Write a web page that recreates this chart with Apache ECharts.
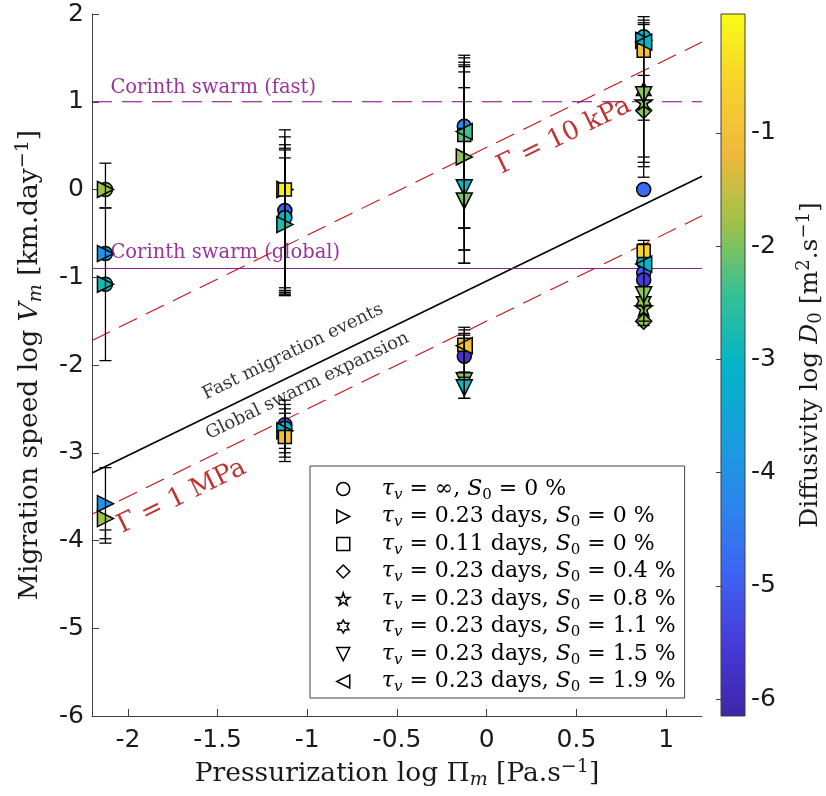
<!DOCTYPE html>
<html>
<head>
<meta charset="utf-8">
<script src="https://cdn.jsdelivr.net/npm/echarts@6/dist/echarts.min.js"></script>
<style>
  html, body { margin: 0; padding: 0; background: #fff; }
  #chart { width: 826px; height: 796px; }
</style>
</head>
<body>
<div id="chart"></div>
<script>
// ---- data: each point is [log Pi_m, log V_m, log D0] ----
const ptsCircle   = [[-2.125, 0.0, -1.8], [-2.125, -0.73, -3.6], [-2.125, -1.08, -2.9],
                     [-1.125, -0.24, -5.0], [-1.125, -0.32, -3.0], [-1.125, -2.68, -5.2], [-1.125, -2.72, -3.0],
                     [-0.125, 0.72, -4.2], [-0.125, -1.9, -5.7],
                     [0.875, 1.74, -3.0], [0.875, 0.0, -4.8], [0.875, -0.83, -3.0], [0.875, -0.95, -5.0], [0.875, -1.03, -5.5]];
const ptsRight    = [[-2.125, 0.0, -1.8], [-2.125, -0.73, -4.0], [-2.125, -1.08, -2.8], [-2.125, -3.58, -4.0], [-2.125, -3.75, -1.8],
                     [-1.125, 0.0, -0.2], [-1.125, -0.40, -2.7], [-1.125, -2.75, -3.0],
                     [-0.125, 0.37, -1.9],
                     [0.875, 1.70, -3.2]];
const ptsSquare   = [[-1.125, 0.0, -0.15], [-1.125, -2.82, -1.0],
                     [-0.125, 0.62, -2.2], [-0.125, -1.77, -1.0],
                     [0.875, 1.58, -1.0], [0.875, -0.70, -0.5]];
const ptsDiamond  = [[0.875, 0.90, -1.9], [0.875, -1.50, -1.9]];
const ptsStar     = [[0.875, 1.00, -1.9], [0.875, -1.35, -1.9]];
const ptsHexagram = [[0.875, 1.12, -1.9], [0.875, -1.27, -1.9]];
const ptsDown     = [[-0.125, 0.02, -3.0], [-0.125, -0.13, -2.0], [-0.125, -2.18, -1.9], [-0.125, -2.26, -2.9],
                     [0.875, 1.08, -1.9], [0.875, -1.20, -1.9]];
const ptsLeft     = [[-0.125, 0.66, -2.4], [-0.125, -1.78, -1.0],
                     [0.875, 1.68, -3.0], [0.875, -0.85, -3.0]];

// error bars: [log Pi_m, low, high]
const errBars = [
  [-2.125, -0.21, 0.30], [-2.125, -1.95, -0.21], [-2.125, -3.98, -3.17], [-2.125, -4.03, -3.88],
  [-1.125, -1.21, 0.68], [-1.125, -1.18, 0.60], [-1.125, -1.17, 0.51], [-1.125, -1.12, 0.47], [-1.125, -1.15, 0.45], [-1.125, -1.20, 0.36],
  [-1.125, -3.10, -2.40], [-1.125, -3.05, -2.45], [-1.125, -3.00, -2.50], [-1.125, -2.95, -2.55],
  [-0.125, -0.84, 1.53], [-0.125, -0.69, 1.50], [-0.125, -0.44, 1.45], [-0.125, -0.44, 1.42], [-0.125, -0.69, 1.40], [-0.125, -0.84, 1.34], [-0.125, -0.44, 1.16],
  [-0.125, -2.38, -1.57], [-0.125, -2.14, -1.60], [-0.125, -2.08, -1.64], [-0.125, -2.38, -1.66],
  [0.875, 0.14, 1.97], [0.875, 0.26, 1.93], [0.875, 0.31, 1.90], [0.875, 0.37, 1.88], [0.875, 0.79, 1.30],
  [0.875, -1.55, -0.58], [0.875, -1.50, -0.62]
];

// reference lines (end points in log Pi_m, log V_m)
const trendLine   = [[-2.2, -3.23], [1.2, 0.15]];
const gamma10kPa  = [[-2.2, -1.72], [1.2, 1.68]];
const gamma1MPa   = [[-2.2, -3.70], [1.2, -0.30]];
const corinthFast   = [[-2.2, 1.0], [1.2, 1.0]];
const corinthGlobal = [[-2.2, -0.9], [1.2, -0.9]];

// axes
const xRange  = [-2.2, 1.2];
const yRange  = [-6, 2];
const xTicks  = [-2, -1.5, -1, -0.5, 0, 0.5, 1];
const cbRange = [-6.15, 0.05];
const cbTicks = [-6, -5, -4, -3, -2, -1];

// parula-like colour ramp for log D0
const parula = ['#3e26a8', '#4639d8', '#3e63f2', '#2b86ec', '#16a0dc', '#03b4c8',
                '#35c096', '#9cc24a', '#f0b83c', '#f8d12c', '#f9fb15'];

const SERIF = '"DejaVu Serif", "Liberation Serif", serif';
const SANS = '"DejaVu Sans", "Liberation Sans", sans-serif';
const AXIS = '#404040';

// rich text styles that imitate math sub/superscripts
function mathRich(size, lh, color) {
  const s2 = Math.round(size * 0.7);
  const subLh = Math.max(4, lh - 0.6 * size);
  const supLh = Math.max(4, lh - 0.56 * size);
  return {
    t:    { fontFamily: SERIF, fontSize: size, lineHeight: lh, color: color },
    i:    { fontFamily: SERIF, fontSize: size, lineHeight: lh, color: color, fontStyle: 'italic' },
    sub:  { fontFamily: SERIF, fontSize: s2, lineHeight: subLh, verticalAlign: 'bottom', color: color },
    isub: { fontFamily: SERIF, fontSize: s2, lineHeight: subLh, verticalAlign: 'bottom', color: color, fontStyle: 'italic' },
    sup:  { fontFamily: SERIF, fontSize: s2, lineHeight: supLh, verticalAlign: 'top', color: color }
  };
}

const legendNames = [
  'tau_inf_S0_0', 'tau_023_S0_0', 'tau_011_S0_0', 'tau_023_S0_04',
  'tau_023_S0_08', 'tau_023_S0_11', 'tau_023_S0_15', 'tau_023_S0_19'
];
const legendText = {
  tau_inf_S0_0:  '{i|τ}{isub|v}{t| = ∞, }{i|S}{sub|0}{t| = 0 %}',
  tau_023_S0_0:  '{i|τ}{isub|v}{t| = 0.23 days, }{i|S}{sub|0}{t| = 0 %}',
  tau_011_S0_0:  '{i|τ}{isub|v}{t| = 0.11 days, }{i|S}{sub|0}{t| = 0 %}',
  tau_023_S0_04: '{i|τ}{isub|v}{t| = 0.23 days, }{i|S}{sub|0}{t| = 0.4 %}',
  tau_023_S0_08: '{i|τ}{isub|v}{t| = 0.23 days, }{i|S}{sub|0}{t| = 0.8 %}',
  tau_023_S0_11: '{i|τ}{isub|v}{t| = 0.23 days, }{i|S}{sub|0}{t| = 1.1 %}',
  tau_023_S0_15: '{i|τ}{isub|v}{t| = 0.23 days, }{i|S}{sub|0}{t| = 1.5 %}',
  tau_023_S0_19: '{i|τ}{isub|v}{t| = 0.23 days, }{i|S}{sub|0}{t| = 1.9 %}'
};

// marker outlines
const TRI_RIGHT = 'path://M0,0 L100,50 L0,100 Z';
const TRI_LEFT  = 'path://M100,0 L0,50 L100,100 Z';
const TRI_DOWN  = 'path://M0,0 L100,0 L50,100 Z';
const STAR      = 'path://M50,0 L61,35 L98,35 L68,57 L79,91 L50,70 L21,91 L32,57 L2,35 L39,35 Z';
const HEXAGRAM  = 'path://M50,0 L64,25 L93,25 L79,50 L93,75 L64,75 L50,100 L36,75 L7,75 L21,50 L7,25 L36,25 Z';

function markerSeries(name, data, symbol, size) {
  return {
    type: 'scatter', name: name, data: data,
    xAxisIndex: 0, yAxisIndex: 0,
    symbol: symbol, symbolSize: size, symbolKeepAspect: true,
    itemStyle: { borderColor: '#000', borderWidth: 1.5, opacity: 1 },
    z: 3, silent: true
  };
}

function lineSeries(data, color, type, width) {
  return {
    type: 'line', data: data, xAxisIndex: 0, yAxisIndex: 0,
    symbol: 'none', silent: true, z: 2,
    lineStyle: { color: color, width: width, type: type }
  };
}

function textMark(pos, text, size, color, rotate, extra) {
  return {
    type: 'scatter', data: [pos], xAxisIndex: 0, yAxisIndex: 0,
    symbol: 'circle', symbolSize: 1, silent: true, z: 5,
    itemStyle: { color: 'rgba(0,0,0,0)' },
    label: Object.assign({
      show: true, position: 'inside', rotate: rotate,
      formatter: text, rich: mathRich(size, size * 1.2, color),
      fontFamily: SERIF, fontSize: size, color: color
    }, extra || {})
  };
}

const series = [
  markerSeries(legendNames[0], ptsCircle, 'circle', 14),
  markerSeries(legendNames[1], ptsRight, TRI_RIGHT, 16),
  markerSeries(legendNames[2], ptsSquare, 'rect', 13),
  markerSeries(legendNames[3], ptsDiamond, 'diamond', 16),
  markerSeries(legendNames[4], ptsStar, STAR, 17),
  markerSeries(legendNames[5], ptsHexagram, HEXAGRAM, 17),
  markerSeries(legendNames[6], ptsDown, TRI_DOWN, 16),
  markerSeries(legendNames[7], ptsLeft, TRI_LEFT, 16),
  {
    type: 'custom', data: errBars, xAxisIndex: 0, yAxisIndex: 0, z: 4, silent: true,
    encode: { x: 0, y: [1, 2] },
    renderItem: function (params, api) {
      const x = api.value(0);
      const lo = api.coord([x, api.value(1)]);
      const hi = api.coord([x, api.value(2)]);
      const w = 6;
      const st = { stroke: '#000', lineWidth: 1.3 };
      return {
        type: 'group', children: [
          { type: 'line', shape: { x1: lo[0], y1: lo[1], x2: hi[0], y2: hi[1] }, style: st },
          { type: 'line', shape: { x1: lo[0] - w, y1: lo[1], x2: lo[0] + w, y2: lo[1] }, style: st },
          { type: 'line', shape: { x1: hi[0] - w, y1: hi[1], x2: hi[0] + w, y2: hi[1] }, style: st }
        ]
      };
    }
  },
  lineSeries(trendLine, '#000', 'solid', 1.6),
  lineSeries(gamma10kPa, '#c81010', [20, 10], 1.1),
  lineSeries(gamma1MPa, '#c81010', [20, 10], 1.1),
  lineSeries(corinthFast, '#800080', [20, 10], 1.1),
  lineSeries(corinthGlobal, '#8a208a', 'solid', 1.1),
  textMark([-2.1, 1.0], '{t|Corinth swarm (fast)}', 19.5, '#800080', 0, { position: 'right', distance: 0, offset: [0, -14] }),
  textMark([-2.1, -0.9], '{t|Corinth swarm (global)}', 19.5, '#800080', 0, { position: 'right', distance: 0, offset: [0, -16] }),
  textMark([-1.08, -1.85], '{t|Fast migration events}', 18, '#000', 26),
  textMark([-1.0, -2.24], '{t|Global swarm expansion}', 18, '#000', 26),
  textMark([0.43, 0.61], '{t|Γ = 10 kPa}', 26, '#b00000', 26),
  textMark([-1.70, -3.50], '{t|Γ = 1 MPa}', 26, '#b00000', 26),
  {
    // colour bar strip
    type: 'custom', data: [[0, cbRange[0], cbRange[1]]], xAxisIndex: 1, yAxisIndex: 1, silent: true,
    renderItem: function (params, api) {
      const p0 = api.coord([0, api.value(1)]);
      const p1 = api.coord([1, api.value(2)]);
      const stops = parula.map(function (c, k) { return { offset: k / (parula.length - 1), color: c }; });
      return {
        type: 'rect',
        shape: { x: p0[0], y: p1[1], width: p1[0] - p0[0], height: p0[1] - p1[1] },
        style: { fill: new echarts.graphic.LinearGradient(0, 1, 0, 0, stops) }
      };
    }
  }
];

const option = {
  backgroundColor: '#fff',
  animation: false,
  grid: [
    { left: 92, top: 14, width: 610, height: 702 },
    { left: 721, top: 14, width: 27, height: 702, show: true, borderColor: AXIS, borderWidth: 1, backgroundColor: 'transparent', z: 10 }
  ],
  xAxis: [
    {
      type: 'value', gridIndex: 0, min: xRange[0], max: xRange[1],
      axisLine: { show: true, onZero: false, lineStyle: { color: AXIS } },
      axisTick: { show: true, inside: true, length: 7, customValues: xTicks, lineStyle: { color: AXIS } },
      axisLabel: { customValues: xTicks, fontFamily: SANS, fontSize: 25, color: '#1a1a1a', margin: 12,
                   formatter: function (v) { return String(v); } },
      splitLine: { show: false },
      name: '{t|Pressurization log Π}{isub|m}{t| [Pa.s}{sup|−1}{t|]}',
      nameLocation: 'middle', nameGap: 42,
      nameTextStyle: { rich: mathRich(26.5, 32, '#1a1a1a') }
    },
    { type: 'value', gridIndex: 1, min: 0, max: 1, show: false }
  ],
  yAxis: [
    {
      type: 'value', gridIndex: 0, min: yRange[0], max: yRange[1], interval: 1,
      axisLine: { show: true, onZero: false, lineStyle: { color: AXIS } },
      axisTick: { show: true, inside: true, length: 7, lineStyle: { color: AXIS } },
      axisLabel: { fontFamily: SANS, fontSize: 25, color: '#1a1a1a', margin: 8 },
      splitLine: { show: false },
      name: '{t|Migration speed log }{i|V}{isub|m}{t| [km.day}{sup|−1}{t|]}',
      nameLocation: 'middle', nameGap: 46, nameRotate: 90,
      nameTextStyle: { rich: mathRich(26.5, 32, '#1a1a1a') }
    },
    {
      type: 'value', gridIndex: 1, min: cbRange[0], max: cbRange[1], position: 'right',
      axisLine: { show: false },
      axisTick: { show: true, inside: true, length: 5, customValues: cbTicks, lineStyle: { color: AXIS } },
      axisLabel: { customValues: cbTicks, fontFamily: SANS, fontSize: 25, color: '#1a1a1a', margin: 6 },
      splitLine: { show: false },
      name: '{t|Diffusivity log }{i|D}{sub|0}{t| [m}{sup|2}{t|.s}{sup|−1}{t|]}',
      nameLocation: 'middle', nameGap: 50, nameRotate: 90,
      nameTextStyle: { rich: mathRich(25, 30, '#1a1a1a') }
    }
  ],
  visualMap: {
    type: 'continuous', show: false, dimension: 2,
    min: cbRange[0], max: cbRange[1], seriesIndex: [0, 1, 2, 3, 4, 5, 6, 7],
    inRange: { color: parula }
  },
  legend: {
    data: legendNames, orient: 'vertical', left: 310, top: 466,
    padding: [12, 9, 3, 26], itemGap: 3,
    itemWidth: 13, itemHeight: 13,
    backgroundColor: '#fff', borderColor: AXIS, borderWidth: 1,
    selectedMode: false,
    itemStyle: { color: '#fff', borderColor: '#000', borderWidth: 1.5 },
    formatter: function (name) { return legendText[name]; },
    textStyle: { padding: [0, 0, 0, 27], rich: mathRich(22, 27, '#000') }
  },
  series: series
};

const chart = echarts.init(document.getElementById('chart'), null, { renderer: 'canvas' });
chart.setOption(option);
</script>
</body>
</html>
